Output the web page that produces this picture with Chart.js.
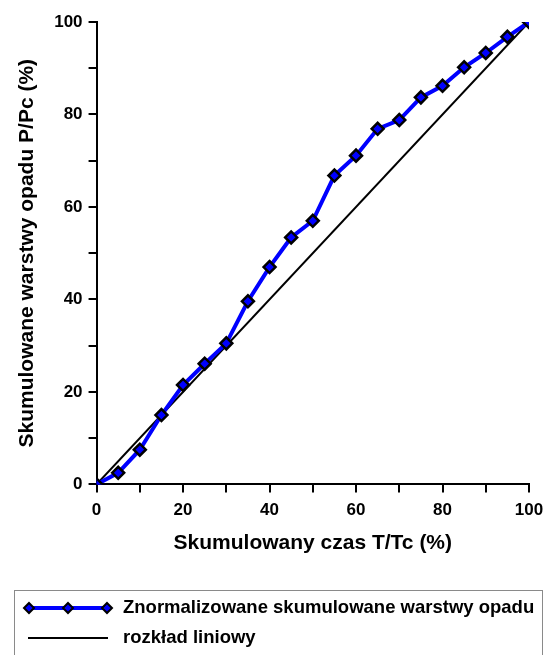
<!DOCTYPE html>
<html>
<head>
<meta charset="utf-8">
<script src="https://cdn.jsdelivr.net/npm/chart.js@4"></script>
<style>
  html, body { margin: 0; padding: 0; background: #fff; }
  #wrap { width: 547px; height: 655px; }
</style>
</head>
<body>
<div id="wrap"><canvas id="cumCanvas" width="547" height="655"></canvas></div>
<script>
const timePct = [0, 5, 10, 15, 20, 25, 30, 35, 40, 45, 50, 55, 60, 65, 70, 75, 80, 85, 90, 95, 100];
const rainPct = [0, 2.5, 7.5, 15, 21.5, 26.1, 30.5, 39.6, 47, 53.4, 57, 66.8, 71.1, 76.9, 78.8, 83.7, 86.2, 90.2, 93.3, 96.8, 100];
const linearX = [0, 100];
const linearY = [0, 100];
const seriesNames = ["Znormalizowane skumulowane warstwy opadu", "rozkład liniowy"];

const FONT = "'Liberation Sans', Arial, sans-serif";

// legend drawn by hand: box at the bottom with the 3-diamond sample
const boxLegend = {
    id: "boxLegend",
    afterDraw(chart) {
        const ctx = chart.ctx;
        ctx.save();
        ctx.strokeStyle = "#8a8a8a";
        ctx.lineWidth = 1;
        ctx.strokeRect(14.5, 590.5, 528, 100);

        // entry 1
        const y1 = 608;
        ctx.strokeStyle = "#0000ff";
        ctx.lineWidth = 4;
        ctx.beginPath();
        ctx.moveTo(29, y1);
        ctx.lineTo(107, y1);
        ctx.stroke();
        [29, 68, 107].forEach(function (x) {
            ctx.beginPath();
            ctx.moveTo(x, y1 - 5);
            ctx.lineTo(x + 5, y1);
            ctx.lineTo(x, y1 + 5);
            ctx.lineTo(x - 5, y1);
            ctx.closePath();
            ctx.fillStyle = "#0000ff";
            ctx.fill();
            ctx.strokeStyle = "#000";
            ctx.lineWidth = 2;
            ctx.stroke();
        });

        // entry 2
        const y2 = 638;
        ctx.strokeStyle = "#000";
        ctx.lineWidth = 2;
        ctx.beginPath();
        ctx.moveTo(28, y2);
        ctx.lineTo(108, y2);
        ctx.stroke();

        ctx.fillStyle = "#000";
        ctx.font = "bold 18.5px " + FONT;
        ctx.textBaseline = "middle";
        ctx.fillText(seriesNames[0], 123, y1);
        ctx.fillText(seriesNames[1], 123, y2);
        ctx.restore();
    }
};

const cumChart = new Chart(document.getElementById("cumCanvas"), {
    type: "scatter",
    data: {
        datasets: [{
            label: seriesNames[1],
            data: linearX.map((x, i) => ({ x: x, y: linearY[i] })),
            showLine: true,
            borderColor: "#000",
            borderWidth: 2,
            pointRadius: 0,
            order: 2
        }, {
            label: seriesNames[0],
            data: timePct.map((x, i) => ({ x: x, y: rainPct[i] })),
            showLine: true,
            borderColor: "#0000ff",
            borderWidth: 4,
            pointStyle: "rectRot",
            pointRadius: 6,
            pointBorderWidth: 2.5,
            pointBackgroundColor: "#0000ff",
            pointBorderColor: "#000",
            order: 1
        }]
    },
    options: {
        responsive: false,
        animation: false,
        layout: {
            padding: { top: 22, right: 0, bottom: 99, left: 15 }
        },
        plugins: {
            legend: { display: false },
            tooltip: { enabled: false }
        },
        scales: {
            x: {
                type: "linear",
                min: 0,
                max: 100,
                // let the "100" label sit closer to the edge, like the original
                afterFit: s => { s.paddingRight = 18; },
                border: { color: "#000", width: 2 },
                grid: { drawOnChartArea: false, drawTicks: true, tickLength: 8, color: "#000", lineWidth: 2 },
                ticks: {
                    stepSize: 10,
                    autoSkip: false,
                    maxRotation: 0,
                    color: "#000",
                    padding: 8,
                    font: { family: FONT, size: 17, weight: "bold" },
                    callback: v => (v % 20 === 0 ? v : "")
                },
                title: {
                    display: true,
                    text: "Skumulowany czas T/Tc (%)",
                    color: "#000",
                    padding: { top: 2, bottom: 0 },
                    font: { family: FONT, size: 21, weight: "bold" }
                }
            },
            y: {
                type: "linear",
                min: 0,
                max: 100,
                border: { color: "#000", width: 2 },
                grid: { drawOnChartArea: false, drawTicks: true, tickLength: 8, color: "#000", lineWidth: 2 },
                ticks: {
                    stepSize: 10,
                    autoSkip: false,
                    color: "#000",
                    padding: 6,
                    font: { family: FONT, size: 17, weight: "bold" },
                    callback: v => (v % 20 === 0 ? v : "")
                },
                title: {
                    display: true,
                    text: "Skumulowane warstwy opadu P/Pc (%)",
                    color: "#000",
                    padding: { top: 0, bottom: 8 },
                    font: { family: FONT, size: 21, weight: "bold" }
                }
            }
        }
    },
    plugins: [boxLegend]
});
</script>
</body>
</html>
